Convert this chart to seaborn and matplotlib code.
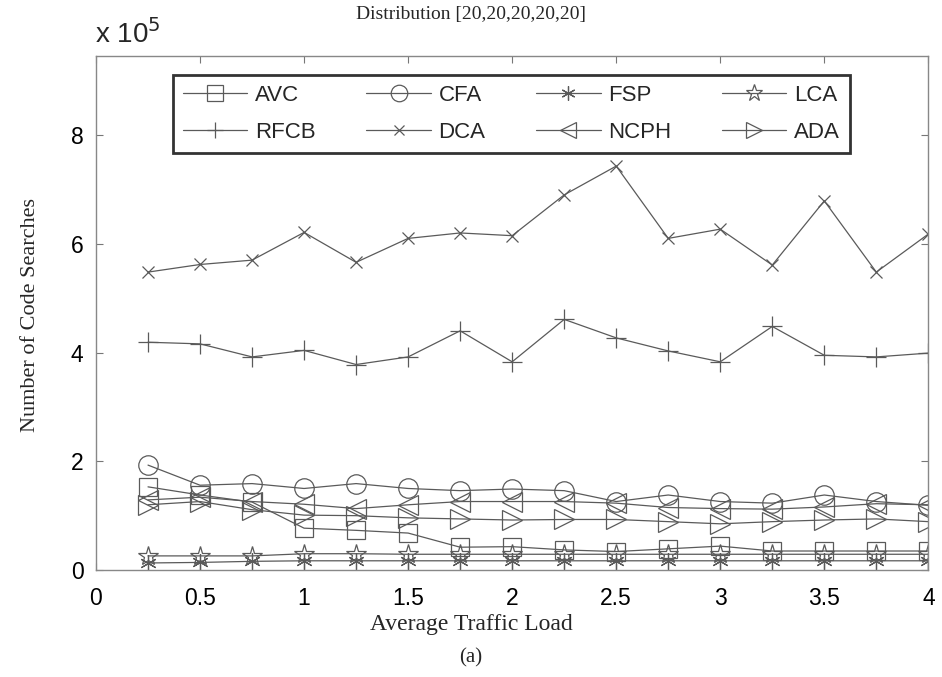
import matplotlib
matplotlib.use("Agg")
import matplotlib.pyplot as plt
import seaborn as sns
import pandas as pd
from matplotlib.ticker import FuncFormatter, MultipleLocator

# ---- data (values in units of 1e5 code searches) ----
SCALE = 1e5
traffic_load = [0.25, 0.5, 0.75, 1.0, 1.25, 1.5, 1.75, 2.0,
                2.25, 2.5, 2.75, 3.0, 3.25, 3.5, 3.75, 4.0]
avc  = [1.53, 1.38, 1.25, 0.77, 0.73, 0.68, 0.42, 0.43, 0.37, 0.34, 0.39, 0.44, 0.35, 0.35, 0.35, 0.35]
cfa  = [1.93, 1.56, 1.59, 1.50, 1.59, 1.50, 1.46, 1.49, 1.46, 1.26, 1.38, 1.26, 1.23, 1.38, 1.26, 1.19]
fsp  = [0.13, 0.14, 0.16, 0.17, 0.17, 0.17, 0.17, 0.17, 0.17, 0.17, 0.17, 0.17, 0.17, 0.17, 0.17, 0.17]
lca  = [0.26, 0.26, 0.26, 0.30, 0.30, 0.29, 0.29, 0.29, 0.29, 0.29, 0.29, 0.29, 0.29, 0.29, 0.29, 0.29]
rfcb = [4.19, 4.16, 3.92, 4.04, 3.78, 3.92, 4.40, 3.83, 4.61, 4.27, 4.03, 3.83, 4.48, 3.95, 3.92, 3.99]
dca  = [5.48, 5.62, 5.70, 6.21, 5.66, 6.10, 6.20, 6.15, 6.90, 7.43, 6.10, 6.27, 5.61, 6.79, 5.48, 6.18]
ncph = [1.29, 1.34, 1.26, 1.21, 1.13, 1.20, 1.26, 1.26, 1.26, 1.23, 1.15, 1.13, 1.12, 1.16, 1.22, 1.20]
ada  = [1.20, 1.26, 1.11, 1.01, 1.00, 0.96, 0.94, 0.92, 0.93, 0.93, 0.89, 0.85, 0.89, 0.92, 0.94, 0.89]

series_names = ["AVC", "CFA", "FSP", "LCA", "RFCB", "DCA", "NCPH", "ADA"]
series_values = [avc, cfa, fsp, lca, rfcb, dca, ncph, ada]

title_text = "Distribution [20,20,20,20,20]"
x_label = "Average Traffic Load"
y_label = "Number of Code Searches"
sub_caption = "(a)"

# ---- styling ----
sns.set_theme(style="white")
plt.rcParams["font.family"] = ["Liberation Sans", "DejaVu Sans"]

markers = {"AVC": "s", "CFA": "o", "FSP": (6, 2, 0), "LCA": "*",
           "RFCB": "+", "DCA": "x", "NCPH": "<", "ADA": ">"}
msizes = {"AVC": 13, "CFA": 14, "FSP": 12, "LCA": 15,
          "RFCB": 14, "DCA": 9, "NCPH": 14, "ADA": 14}
color = "#5a5a5a"

rows = []
for name, vals in zip(series_names, series_values):
    for xv, yv in zip(traffic_load, vals):
        rows.append({"load": xv, "searches": yv * SCALE, "algo": name})
df = pd.DataFrame(rows)

fig = plt.figure(figsize=(9.42, 6.77), dpi=100)
ax = fig.add_axes([0.1019, 0.158, 0.8836, 0.7597])

for name in series_names:
    sub = df[df["algo"] == name]
    sns.lineplot(data=sub, x="load", y="searches", ax=ax, label=name,
                 color=color, linewidth=0.9, marker=markers[name],
                 markersize=msizes[name], markerfacecolor="none",
                 markeredgecolor=color, markeredgewidth=0.9,
                 estimator=None, sort=False)

ax.set_xlim(0, 4)
ax.set_ylim(0, 9.46 * SCALE)
ax.xaxis.set_major_locator(MultipleLocator(0.5))
ax.yaxis.set_major_locator(MultipleLocator(2 * SCALE))
ax.xaxis.set_major_formatter(FuncFormatter(lambda v, p: f"{v:g}"))
ax.yaxis.set_major_formatter(FuncFormatter(lambda v, p: f"{v / SCALE:g}"))
ax.tick_params(direction="in", length=5, width=0.8, colors="#777777",
               labelcolor="black", labelsize=16.5, top=True, right=True,
               bottom=True, left=True)
ax.tick_params(axis="x", pad=12)
ax.tick_params(axis="y", pad=9)
for sp in ax.spines.values():
    sp.set_color("#888888")
    sp.set_linewidth(1.0)

ax.set_xlabel("")
ax.set_ylabel("")
serif = ["Liberation Serif", "DejaVu Serif"]
fig.text(0.5, 0.077, x_label, ha="center", va="center", family=serif, fontsize=17)
fig.text(0.5, 0.028, sub_caption, ha="center", va="center", family=serif, fontsize=15)
fig.text(0.032, 0.535, y_label, ha="center", va="center", rotation=90, family=serif, fontsize=16)
fig.text(0.5, 0.979, title_text, ha="center", va="center", family=serif, fontsize=14)
fig.text(0.101, 0.950, r"x 10$^{5}$", ha="left", va="center", fontsize=20)

# legend ordered row by row (matplotlib fills columns first)
handles, labels = ax.get_legend_handles_labels()
ncol = 4
nrow = 2
order = [r * ncol + c for c in range(ncol) for r in range(nrow)]
leg = ax.legend([handles[i] for i in order], [labels[i] for i in order],
                loc="lower left", bbox_to_anchor=(0.0925, 0.811, 0.8135, 0.1515),
                mode="expand", ncol=ncol, fontsize=16, handlelength=2.9,
                handletextpad=0.35, labelspacing=0.72, columnspacing=0.6,
                borderpad=0.45, frameon=True, fancybox=False, borderaxespad=0)
leg.get_frame().set_edgecolor("black")
leg.get_frame().set_linewidth(2.0)
for h in leg.legend_handles:
    h.set_markersize(h.get_markersize() * 0.85)

fig.savefig("out.png", dpi=100)
